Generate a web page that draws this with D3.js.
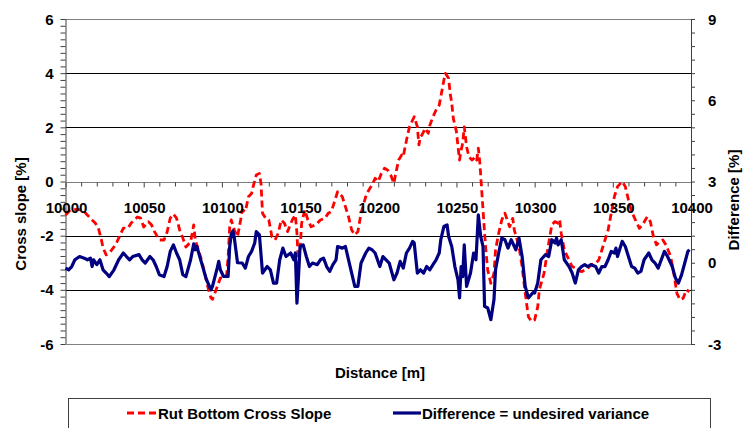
<!DOCTYPE html>
<html>
<head>
<meta charset="utf-8">
<script src="https://cdn.jsdelivr.net/npm/d3@7"></script>
<style>
  html, body { margin: 0; padding: 0; background: #fff; }
  svg { display: block; font-family: 'Liberation Sans', Arial, sans-serif; font-weight: bold; }
</style>
</head>
<body>
<div id="viz"></div>
<script>
// Rut bottom cross slope (left axis, %)
const slopeDist = [10000,10003,10007,10011,10014,10017,10019,10021,10023,10024,10026,10028,10032,10035,10037,10040,10042,10046,10048,10050,10053,10055,10057,10060,10063,10065,10067,10069,10071,10073,10075,10077,10080,10082,10083,10085,10087,10089,10091,10093,10094,10097,10099,10101,10103,10104,10105,10106,10108,10110,10112,10113,10115,10117,10119,10120,10122,10124,10125,10126,10128,10130,10132,10134,10136,10138,10140,10142,10145,10147,10148,10149,10150,10151,10153,10155,10157,10160,10163,10166,10168,10170,10172,10174,10177,10179,10181,10183,10185,10187,10189,10192,10194,10196,10198,10200,10202,10204,10206,10208,10210,10211,10213,10215,10216,10217,10219,10220,10222,10223,10225,10226,10227,10228,10230,10232,10233,10235,10237,10239,10240,10242,10243,10245,10246,10247,10248,10250,10251,10252,10253,10254,10255,10256.5,10258,10260,10262,10263,10264,10265,10266,10267,10268,10269,10270,10272,10274,10275,10277,10279,10281,10282.5,10284,10286,10287,10290,10292,10294,10296,10298,10300,10302,10303,10306,10307,10309,10311,10313,10315,10316,10317,10319,10322,10324,10326,10328,10330,10332,10334,10336,10339,10341,10343,10345,10347,10349,10351,10353,10356,10358,10360,10362,10364,10367,10369,10372,10374,10376,10378,10380,10382,10384,10387,10389,10391,10393,10395,10397,10399];
const slopeVal = [-1.24,-1.05,-1.03,-1.05,-1.24,-1.42,-1.53,-1.72,-2.16,-2.45,-2.71,-2.64,-2.34,-1.97,-1.72,-1.72,-1.53,-1.31,-1.35,-1.68,-1.49,-1.6,-1.86,-2.16,-2.16,-1.86,-1.35,-1.2,-1.35,-1.79,-2.08,-2.42,-2.23,-1.6,-2.16,-2.53,-2.9,-3.38,-3.89,-4.3,-4.35,-3.89,-3.56,-3.56,-3.51,-2.77,-1.67,-1.42,-1.79,-2.04,-1.42,-1.05,-1.11,-0.56,-0.44,-0.19,0.24,0.3,-0.07,-1.17,-1.36,-1.42,-2.04,-2.16,-1.91,-1.42,-1.54,-1.85,-1.42,-1.24,-1.91,-3.14,-2.53,-1.54,-1.05,-1.42,-1.67,-1.6,-1.42,-1.36,-1.17,-1.11,-0.75,-0.38,-0.56,-0.93,-1.3,-1.79,-1.97,-1.85,-1.17,-0.56,-0.31,-0.13,0.12,0.0,0.3,0.49,0.42,0.24,-0.07,0.24,0.79,0.98,0.91,1.23,1.78,2.02,2.27,2.39,2.02,1.35,1.65,1.72,1.96,1.78,2.08,2.39,2.64,2.82,3.13,3.75,3.99,3.81,3.25,2.89,2.33,1.84,1.28,0.79,1.16,1.41,2.02,1.28,0.91,0.79,0.91,0.79,1.23,0.67,-0.19,-1.05,-1.91,-2.65,-3.27,-3.76,-3.39,-2.53,-1.91,-1.42,-1.17,-1.42,-1.67,-1.36,-1.79,-2.41,-3.14,-4.13,-4.99,-5.17,-5.11,-4.62,-4.0,-3.39,-3.02,-2.28,-1.6,-1.48,-1.54,-1.42,-1.91,-2.53,-2.9,-3.14,-3.2,-3.27,-3.33,-3.27,-3.2,-3.08,-3.02,-2.9,-2.53,-2.16,-1.79,-1.17,-0.56,-0.19,0.0,-0.19,-0.68,-1.11,-1.36,-1.73,-1.6,-1.3,-1.48,-2.04,-2.34,-2.22,-2.16,-2.34,-2.77,-3.39,-4.13,-4.37,-4.31,-4.0,-4.07];

// Difference = undesired variance (right axis, %)
const diffDist = [10000,10002,10004,10006,10009,10012,10014,10016,10017,10018,10020,10022,10024,10026,10028,10031,10034,10037,10039,10041,10043,10047,10049,10051,10054,10056,10058,10060,10063,10065,10067,10069,10071,10073,10075,10077,10080,10082,10083,10084,10086,10088,10090,10093,10094,10097,10098,10099,10101,10104,10105,10106,10107,10108,10110,10113,10115,10117,10119,10121,10122,10124,10126,10129,10131,10133,10135,10137,10139,10141,10144,10146,10147,10148,10149,10150,10152,10154,10156,10158,10161,10163,10165,10167,10169,10171,10173,10174,10177,10179,10181,10183,10185,10187,10189,10192,10194,10196,10198,10201,10203,10205,10207,10210,10212,10214,10216,10218,10220,10222,10223,10225,10227,10229,10231,10233,10235,10237,10239,10240,10242,10244,10245,10247,10249,10251,10252,10253,10254,10255,10256.5,10259,10261,10262.5,10264,10265.5,10267,10268,10270,10272,10274,10275,10277,10279,10281,10283,10285,10286,10288,10290,10292,10294,10296,10299,10300,10302,10304,10307,10309,10311,10313,10314,10315,10317,10319,10322,10324,10326,10328,10330,10332,10334,10336,10339,10341,10343,10345,10347,10349,10351,10352,10353,10356,10358,10360,10362,10364,10366,10368,10370,10373,10375,10377,10379,10381,10383,10385,10388,10390,10392,10394,10396,10398,10399];
const diffVal = [-0.2,-0.26,-0.14,0.11,0.23,0.17,0.11,0.17,-0.14,0.11,-0.07,0.11,-0.26,-0.38,-0.51,-0.26,0.11,0.36,0.23,0.11,0.23,0.3,0.11,-0.01,0.23,0.11,-0.14,-0.44,-0.51,-0.14,0.42,0.66,0.36,0.11,-0.44,-0.51,0.11,0.7,0.48,0.6,0.2,-0.2,-0.6,-1.0,-0.87,-0.2,0.05,-0.26,-0.5,-0.5,0.6,1.05,1.18,0.9,0.0,-0.01,-0.2,0.23,0.42,0.73,1.15,1.03,-0.38,-0.14,-0.26,-0.75,-0.75,0.11,0.54,0.23,0.36,0.11,0.36,-1.49,-0.51,0.6,0.66,0.23,-0.14,-0.01,-0.07,0.11,0.17,-0.14,-0.32,-0.07,0.11,0.6,0.54,0.6,0.11,-0.38,-0.87,-0.87,-0.01,0.36,0.54,0.48,0.36,-0.14,0.23,0.11,-0.01,-0.63,-0.38,0.05,-0.2,0.36,0.54,0.79,0.73,-0.38,-0.26,-0.38,-0.14,-0.26,-0.07,0.11,0.36,0.85,1.34,1.4,0.97,0.6,-0.14,-0.63,-1.3,-0.14,-0.51,0.66,-0.87,-0.38,0.36,0.11,1.77,0.97,0.6,-1.61,-1.67,-2.1,-1.37,-0.26,0.36,0.91,0.85,0.54,0.85,0.73,0.48,0.91,0.23,-0.87,-1.3,-1.1,-1.12,-0.75,0.11,0.3,0.23,0.85,0.73,0.91,0.66,0.85,0.11,-0.14,-0.38,-0.75,-0.26,-0.14,-0.07,-0.14,-0.07,-0.14,-0.38,-0.14,-0.14,0.11,0.42,0.36,0.54,0.23,0.79,0.6,0.23,-0.14,-0.2,-0.38,-0.32,0.11,0.36,0.11,-0.01,-0.2,0.11,0.42,0.23,-0.14,-0.56,-0.75,-0.44,-0.01,0.42,0.48];

const xTicks = [10000, 10050, 10100, 10150, 10200, 10250, 10300, 10350, 10400];
const leftTicks = [-6, -4, -2, 0, 2, 4, 6];
const rightTicks = [-3, 0, 3, 6, 9];
const gridLines = [-4, -2, 2, 4];

const W = 743, H = 428;
const margin = { top: 19, left: 65.5, right: 52, bottom: 84 };
const pw = W - margin.left - margin.right;
const ph = H - margin.top - margin.bottom;

const svg = d3.select('#viz').append('svg').attr('width', W).attr('height', H);
const g = svg.append('g').attr('transform', `translate(${margin.left},${margin.top})`);

const x = d3.scaleLinear().domain([10000, 10400]).range([0, pw]);
const yL = d3.scaleLinear().domain([-6, 6]).range([ph, 0]);
const yR = d3.scaleLinear().domain([-3, 9]).range([ph, 0]);

// frame top / bottom
g.append('line').attr('x1', 0).attr('x2', pw).attr('y1', 0.5).attr('y2', 0.5).attr('stroke', '#808080');
g.append('line').attr('x1', 0).attr('x2', pw).attr('y1', ph + 0.5).attr('y2', ph + 0.5).attr('stroke', '#808080');

// gridlines
g.selectAll('.grid').data(gridLines).enter().append('line')
  .attr('x1', 0).attr('x2', pw)
  .attr('y1', (d) => Math.round(yL(d)) + 0.5).attr('y2', (d) => Math.round(yL(d)) + 0.5)
  .attr('stroke', '#000').attr('stroke-width', 1);

// left axis
const leftAx = g.append('g').call(
  d3.axisLeft(yL).tickValues(d3.range(-6, 6.01, 0.25)).tickSize(5).tickFormat(() => '')
);
leftAx.selectAll('line').attr('stroke', '#404040');
leftAx.select('.domain').attr('stroke', '#404040').attr('d', `M0.5,0V${ph}`);
g.selectAll('.ltl').data(leftTicks).enter().append('text')
  .attr('x', -12).attr('y', (d) => yL(d) + 5.5)
  .attr('text-anchor', 'end').attr('font-size', 15).text((d) => d);

// right axis
const rightAx = g.append('g').attr('transform', `translate(${pw},0)`).call(
  d3.axisRight(yR).tickValues(d3.range(-3, 9.01, 0.5)).tickSize(4).tickFormat(() => '')
);
rightAx.selectAll('line').attr('stroke', '#404040');
rightAx.select('.domain').attr('stroke', '#404040').attr('d', `M0.5,0V${ph}`);
g.selectAll('.rtl').data(rightTicks).enter().append('text')
  .attr('x', pw + 17).attr('y', (d) => yR(d) + 5.5)
  .attr('text-anchor', 'start').attr('font-size', 15).text((d) => d);

// x axis at zero
const y0 = Math.round(yL(0)) + 0.5;
const xAx = g.append('g').attr('transform', `translate(0,${y0})`);
xAx.call(d3.axisBottom(x).tickValues(d3.range(10000, 10401, 10)).tickSize(4).tickFormat(() => ''));
xAx.select('.domain').attr('stroke', '#808080').attr('d', `M0,0H${pw}`);
xAx.selectAll('.tick line').attr('stroke', '#404040').attr('y2', (d) => (d % 50 === 0 ? 5 : 4));

// series
const lineL = d3.line().x((d) => x(d[0])).y((d) => yL(d[1]));
const lineR = d3.line().x((d) => x(d[0])).y((d) => yR(d[1]));

g.append('path')
  .datum(slopeDist.map((d, i) => [d, slopeVal[i]]))
  .attr('d', lineL).attr('fill', 'none')
  .attr('stroke', '#ff0000').attr('stroke-width', 2.8)
  .attr('stroke-dasharray', '7,4').attr('stroke-linejoin', 'round');

g.append('path')
  .datum(diffDist.map((d, i) => [d, diffVal[i]]))
  .attr('d', lineR).attr('fill', 'none')
  .attr('stroke', '#000080').attr('stroke-width', 3.2)
  .attr('stroke-linejoin', 'round');

// x tick labels (drawn over the plot, below the zero line)
g.selectAll('.xtl').data(xTicks).enter().append('text')
  .attr('x', (d) => x(d) + 1).attr('y', y0 + 30)
  .attr('text-anchor', 'middle').attr('font-size', 15).text((d) => d);

// axis titles
svg.append('text').attr('transform', 'translate(26,214) rotate(-90)')
  .attr('text-anchor', 'middle').attr('font-size', 15).text('Cross slope [%]');
svg.append('text').attr('transform', 'translate(739,200) rotate(-90)')
  .attr('text-anchor', 'middle').attr('font-size', 15).text('Difference [%]');
svg.append('text').attr('x', 380).attr('y', 378)
  .attr('text-anchor', 'middle').attr('font-size', 15).text('Distance [m]');

// legend
const lg = svg.append('g');
lg.append('rect').attr('x', 68.5).attr('y', 398.5).attr('width', 642).attr('height', 40)
  .attr('fill', '#fff').attr('stroke', '#404040');
lg.append('line').attr('x1', 127).attr('x2', 157).attr('y1', 413).attr('y2', 413)
  .attr('stroke', '#ff0000').attr('stroke-width', 2.8).attr('stroke-dasharray', '7,4');
lg.append('text').attr('x', 158).attr('y', 419).attr('font-size', 15).text('Rut Bottom Cross Slope');
lg.append('line').attr('x1', 393).attr('x2', 421).attr('y1', 413).attr('y2', 413)
  .attr('stroke', '#000080').attr('stroke-width', 3.2);
lg.append('text').attr('x', 422).attr('y', 419).attr('font-size', 15).text('Difference = undesired variance');
</script>
</body>
</html>
